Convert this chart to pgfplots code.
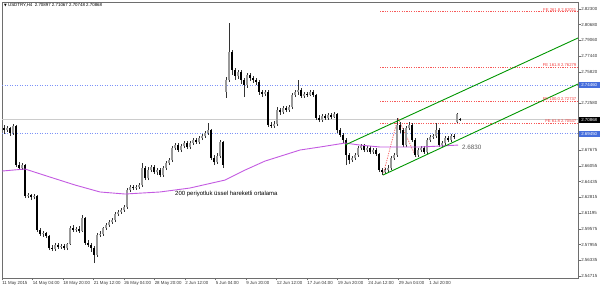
\documentclass[border=0pt]{standalone}
\usepackage{fontspec}
\setmainfont{Liberation Sans}
\newfontfamily\symfont{DejaVu Sans}
\usepackage{pgfplots}
\usepackage{pgfplotstable}
\pgfplotsset{compat=1.18}

\definecolor{emacol}{RGB}{195,90,225}
\definecolor{chgreen}{RGB}{0,150,0}
\definecolor{ferred}{RGB}{245,60,60}
\definecolor{hblue}{RGB}{80,110,245}
\definecolor{boxblue}{RGB}{70,110,220}
\definecolor{axgray}{RGB}{110,110,110}

% USDTRY H4 candles: x (chart position), open, high, low, close
\pgfplotstableread{
x o h l c
4 2.7002 2.7033 2.6940 2.6981
7 2.6981 2.7023 2.6961 2.7002
10 2.7002 2.7012 2.6919 2.6950
13 2.6950 2.7043 2.6930 2.7023
16 2.7023 2.7033 2.6599 2.6620
19 2.6620 2.6651 2.6568 2.6589
22 2.6589 2.6641 2.6568 2.6620
25 2.6620 2.6630 2.6280 2.6300
28 2.6300 2.6331 2.6280 2.6311
31 2.6311 2.6321 2.6259 2.6290
34 2.6290 2.6321 2.6269 2.6300
37 2.6300 2.6311 2.5929 2.5950
40 2.5950 2.5970 2.5888 2.5908
43 2.5908 2.5939 2.5877 2.5919
46 2.5919 2.5929 2.5867 2.5888
49 2.5888 2.5898 2.5743 2.5764
52 2.5764 2.5795 2.5733 2.5754
55 2.5754 2.5815 2.5733 2.5795
58 2.5795 2.5815 2.5754 2.5774
61 2.5774 2.5805 2.5754 2.5785
64 2.5785 2.5805 2.5743 2.5764
67 2.5764 2.5815 2.5743 2.5805
70 2.5805 2.5991 2.5795 2.5970
73 2.5970 2.6001 2.5929 2.5950
76 2.5950 2.5981 2.5929 2.5960
79 2.5960 2.5991 2.5919 2.5939
82 2.5939 2.6105 2.5929 2.6074
85 2.6074 2.6084 2.5795 2.5815
88 2.5815 2.5846 2.5774 2.5795
91 2.5795 2.5815 2.5723 2.5764
94 2.5764 2.5785 2.5609 2.5692
97 2.5692 2.5919 2.5671 2.5898
100 2.5898 2.5939 2.5877 2.5908
103 2.5908 2.5981 2.5888 2.5970
106 2.5970 2.6022 2.5950 2.6001
109 2.6001 2.6053 2.5981 2.6032
112 2.6032 2.6074 2.6012 2.6053
115 2.6053 2.6136 2.6032 2.6115
118 2.6115 2.6156 2.6094 2.6136
121 2.6136 2.6177 2.6115 2.6156
124 2.6156 2.6208 2.6136 2.6187
127 2.6187 2.6383 2.6167 2.6362
130 2.6362 2.6414 2.6342 2.6393
133 2.6393 2.6414 2.6362 2.6383
136 2.6383 2.6414 2.6362 2.6393
139 2.6393 2.6434 2.6373 2.6414
142 2.6414 2.6641 2.6393 2.6589
145 2.6589 2.6610 2.6465 2.6486
148 2.6486 2.6599 2.6465 2.6568
151 2.6568 2.6620 2.6548 2.6599
154 2.6599 2.6620 2.6527 2.6548
157 2.6548 2.6589 2.6517 2.6568
160 2.6568 2.6589 2.6496 2.6517
163 2.6517 2.6610 2.6496 2.6589
166 2.6589 2.6661 2.6568 2.6641
169 2.6641 2.6692 2.6620 2.6672
172 2.6672 2.6816 2.6651 2.6795
175 2.6795 2.6847 2.6775 2.6826
178 2.6826 2.6847 2.6754 2.6775
181 2.6775 2.6837 2.6754 2.6816
184 2.6816 2.6868 2.6795 2.6847
187 2.6847 2.6868 2.6785 2.6806
190 2.6806 2.6868 2.6785 2.6847
193 2.6847 2.6899 2.6826 2.6878
196 2.6878 2.6899 2.6837 2.6857
199 2.6857 2.6919 2.6837 2.6899
202 2.6899 2.6940 2.6878 2.6919
205 2.6919 2.6971 2.6899 2.6950
208 2.6950 2.7054 2.6930 2.6981
211 2.6981 2.6992 2.6672 2.6692
214 2.6692 2.6723 2.6620 2.6651
217 2.6651 2.6744 2.6630 2.6713
220 2.6713 2.6878 2.6692 2.6857
223 2.6857 2.6868 2.6589 2.6620
226 2.7374 2.7529 2.7312 2.7498
229 2.7498 2.8086 2.7477 2.7787
232 2.7787 2.7807 2.7549 2.7601
235 2.7601 2.7622 2.7498 2.7539
238 2.7539 2.7601 2.7508 2.7580
241 2.7580 2.7601 2.7456 2.7498
244 2.7498 2.7518 2.7322 2.7446
247 2.7446 2.7570 2.7415 2.7549
250 2.7549 2.7570 2.7487 2.7518
253 2.7518 2.7539 2.7467 2.7498
256 2.7498 2.7518 2.7446 2.7477
259 2.7477 2.7498 2.7343 2.7374
262 2.7374 2.7394 2.7322 2.7353
265 2.7353 2.7394 2.7332 2.7374
268 2.7374 2.7394 2.7012 2.7033
271 2.7033 2.7064 2.7002 2.7023
274 2.7023 2.7074 2.7002 2.7043
277 2.7043 2.7219 2.7023 2.7188
280 2.7188 2.7208 2.7136 2.7167
283 2.7167 2.7229 2.7147 2.7208
286 2.7208 2.7229 2.7167 2.7188
289 2.7188 2.7239 2.7167 2.7219
292 2.7219 2.7363 2.7198 2.7343
295 2.7343 2.7394 2.7322 2.7374
298 2.7374 2.7498 2.7343 2.7394
301 2.7394 2.7415 2.7312 2.7332
304 2.7332 2.7374 2.7312 2.7353
307 2.7353 2.7374 2.7322 2.7343
310 2.7343 2.7394 2.7332 2.7374
313 2.7374 2.7394 2.7322 2.7343
316 2.7343 2.7353 2.7085 2.7105
319 2.7105 2.7136 2.7064 2.7085
322 2.7085 2.7147 2.7064 2.7126
325 2.7126 2.7147 2.7085 2.7105
328 2.7105 2.7157 2.7085 2.7136
331 2.7136 2.7157 2.7095 2.7116
334 2.7116 2.7167 2.7105 2.7147
337 2.7147 2.7157 2.6950 2.6981
340 2.6981 2.7002 2.6909 2.6930
343 2.6930 2.6950 2.6847 2.6878
346 2.6878 2.6899 2.6620 2.6723
349 2.6723 2.6744 2.6630 2.6672
352 2.6672 2.6713 2.6651 2.6692
355 2.6692 2.6744 2.6672 2.6723
358 2.6723 2.6816 2.6703 2.6795
361 2.6795 2.6837 2.6775 2.6816
364 2.6816 2.6837 2.6754 2.6775
367 2.6775 2.6816 2.6754 2.6795
370 2.6795 2.6816 2.6734 2.6754
373 2.6754 2.6795 2.6734 2.6775
376 2.6775 2.6795 2.6713 2.6734
379 2.6734 2.6744 2.6548 2.6568
382 2.6568 2.6589 2.6517 2.6548
385 2.6548 2.6589 2.6527 2.6568
388 2.6568 2.6620 2.6548 2.6589
391 2.6589 2.6713 2.6568 2.6692
394 2.6692 2.6744 2.6672 2.6723
397 2.6723 2.7105 2.6703 2.7033
400 2.7033 2.7064 2.6950 2.6981
403 2.6981 2.7002 2.6806 2.6826
406 2.6826 2.7023 2.6806 2.7002
409 2.7002 2.7064 2.6981 2.7033
412 2.7033 2.7054 2.6857 2.6878
415 2.6878 2.6899 2.6703 2.6723
418 2.6723 2.6795 2.6703 2.6775
421 2.6775 2.6816 2.6754 2.6795
424 2.6795 2.6816 2.6734 2.6754
427 2.6754 2.6899 2.6734 2.6878
430 2.6878 2.6930 2.6857 2.6909
433 2.6909 2.6940 2.6888 2.6919
436 2.6919 2.7054 2.6899 2.6981
439 2.6981 2.7002 2.6806 2.6826
442 2.6826 2.6868 2.6806 2.6847
445 2.6847 2.6919 2.6826 2.6899
448 2.6899 2.6919 2.6857 2.6878
451 2.6878 2.6940 2.6857 2.6919
454 2.6919 2.6940 2.6888 2.6909
457 2.7064 2.7157 2.7054 2.7147
460 2.70897 2.71067 2.70748 2.70868
}\bars

\begin{document}
\begin{tikzpicture}
\begin{axis}[
  at={(2bp,10bp)}, anchor=south west,
  scale only axis, width=576bp, height=276bp,
  xmin=2, xmax=578, ymin=2.54545, ymax=2.83023,
  clip=false,
  axis line style={axgray, line width=0.6bp},
  tick style={axgray, line width=0.5bp},
  tick align=outside, major tick length=2.5bp,
  xtick pos=bottom, ytick pos=right,
  xtick={2,32.5,63,93.5,124,154.5,185,215.5,246,276.5,307,337.5,368,398.5,429},
  xticklabels={11 May 2015,14 May 04:00,18 May 20:00,21 May 12:00,26 May 04:00,28 May 20:00,2 Jun 12:00,5 Jun 04:00,9 Jun 20:00,12 Jun 12:00,17 Jun 04:00,19 Jun 20:00,24 Jun 12:00,29 Jun 04:00,1 Jul 20:00},
  xticklabel style={anchor=north west, inner sep=0.6bp, xshift=-0.5bp, font=\fontsize{4.4bp}{5bp}\selectfont, text=black!80},
  ytick={2.82300,2.80680,2.79060,2.77440,2.75820,2.72580,2.67720,2.66100,2.64480,2.62860,2.61240,2.59620,2.58000,2.56380,2.54760},
  yticklabels={2.82300,2.80680,2.79060,2.77440,2.75820,2.72580,2.67675,2.66055,2.64435,2.62815,2.61195,2.59575,2.57955,2.56335,2.54715},
  yticklabel style={anchor=west, inner sep=0.6bp, font=\fontsize{4.4bp}{5bp}\selectfont, text=black!80},
]
% horizontal lines
\addplot[gray!40, line width=0.6bp] coordinates {(2,2.70868) (578,2.70868)};
\addplot[hblue!75, line width=0.75bp, dash pattern=on 1.2bp off 1.3bp] coordinates {(2,2.74460) (578,2.74460)};
\addplot[hblue!75, line width=0.75bp, dash pattern=on 1.2bp off 1.3bp] coordinates {(2,2.69450) (578,2.69450)};
% FE lines
\addplot[ferred!85, line width=0.75bp, dash pattern=on 1.2bp off 1.2bp] coordinates {(380,2.82011) (578,2.82011)};
\addplot[ferred!85, line width=0.75bp, dash pattern=on 1.2bp off 1.2bp] coordinates {(380,2.76279) (578,2.76279)};
\addplot[ferred!85, line width=0.75bp, dash pattern=on 1.2bp off 1.2bp] coordinates {(380,2.72737) (578,2.72737)};
\addplot[ferred!85, line width=0.75bp, dash pattern=on 1.2bp off 1.2bp] coordinates {(380,2.70547) (578,2.70547)};
\addplot[ferred!85, line width=0.7bp, dash pattern=on 1.2bp off 1.2bp] coordinates {(383,2.6517) (398,2.7105) (416,2.6703)};
% candles: wicks (low to high)
\addplot[black!80, line width=0.5bp, mark=none, quiver={u=0, v=\thisrow{h}-\thisrow{l}}]
  table[x=x, y=l] {\bars};
% bodies (open to close)
\addplot[black, line width=1.5bp, mark=none, quiver={u=0, v={max(abs(\thisrow{c}-\thisrow{o}),0.0005)}}]
  table[x=x, y expr={min(\thisrow{o},\thisrow{c})}] {\bars};
% bull bodies lighter
\addplot[black!40, line width=1.5bp, mark=none, quiver={u=0, v={max(\thisrow{c}-\thisrow{o},0)}}]
  table[x=x, y=o] {\bars};
% EMA 200
\addplot[emacol, line width=0.9bp] coordinates {
(2,2.6558) (25,2.6579) (50,2.6496) (75,2.6414) (100,2.6342) (125,2.6321) (160,2.6342)
(190,2.6383) (225,2.6465) (245,2.6568) (265,2.6661) (300,2.6775) (320,2.6806)
(345,2.6847) (360,2.6826) (380,2.6806) (400,2.6806) (420,2.6806) (440,2.6816) (458,2.6826)};
% channel
\addplot[chgreen, line width=0.9bp] coordinates {(345,2.6826) (578,2.7931)};
\addplot[chgreen, line width=0.9bp] coordinates {(383,2.6517) (578,2.7456)};
% texts
\node[anchor=west, inner sep=0, font=\fontsize{4.4bp}{5bp}\selectfont] at (axis cs:4,2.8264)
  {{\symfont\fontsize{3.5bp}{4bp}\selectfont ▼}\ USDTRY,H4\ \ 2.70897 2.71067 2.70748 2.70868};
\node[anchor=west, inner sep=0, font=\fontsize{6bp}{7bp}\selectfont] at (axis cs:175,2.6321)
  {200 periyotluk üssel hareketli ortalama};
\node[anchor=west, inner sep=0, text=black!65, font=\fontsize{6.3bp}{7bp}\selectfont] at (axis cs:462,2.6806) {2.6830};
\node[anchor=south east, inner sep=0.5bp, text=ferred, font=\fontsize{4.2bp}{5bp}\selectfont] at (axis cs:577,2.82011) {FE 261.8 2.82011};
\node[anchor=south east, inner sep=0.5bp, text=ferred, font=\fontsize{4.2bp}{5bp}\selectfont] at (axis cs:577,2.76279) {FE 161.8 2.76279};
\node[anchor=south east, inner sep=0.5bp, text=ferred, font=\fontsize{4.2bp}{5bp}\selectfont] at (axis cs:577,2.72737) {FE 100.0 2.72737};
\node[anchor=south east, inner sep=0.5bp, text=ferred, font=\fontsize{4.2bp}{5bp}\selectfont] at (axis cs:577,2.70547) {FE 61.8 2.70547};
% price boxes
\node[anchor=west, fill=boxblue, text=white, inner sep=0.4bp, minimum width=21bp, minimum height=6bp, font=\fontsize{4.4bp}{5bp}\selectfont] at (axis cs:578.5,2.74460) {2.74460};
\node[anchor=west, fill=black, text=white, inner sep=0.4bp, minimum width=21bp, minimum height=6bp, font=\fontsize{4.4bp}{5bp}\selectfont] at (axis cs:578.5,2.70868) {2.70868};
\node[anchor=west, fill=boxblue, text=white, inner sep=0.4bp, minimum width=21bp, minimum height=6bp, font=\fontsize{4.4bp}{5bp}\selectfont] at (axis cs:578.5,2.69450) {2.69450};
\end{axis}
\pgfresetboundingbox
\path[use as bounding box] (0,0) rectangle (600bp,288bp);
\end{tikzpicture}
\end{document}
